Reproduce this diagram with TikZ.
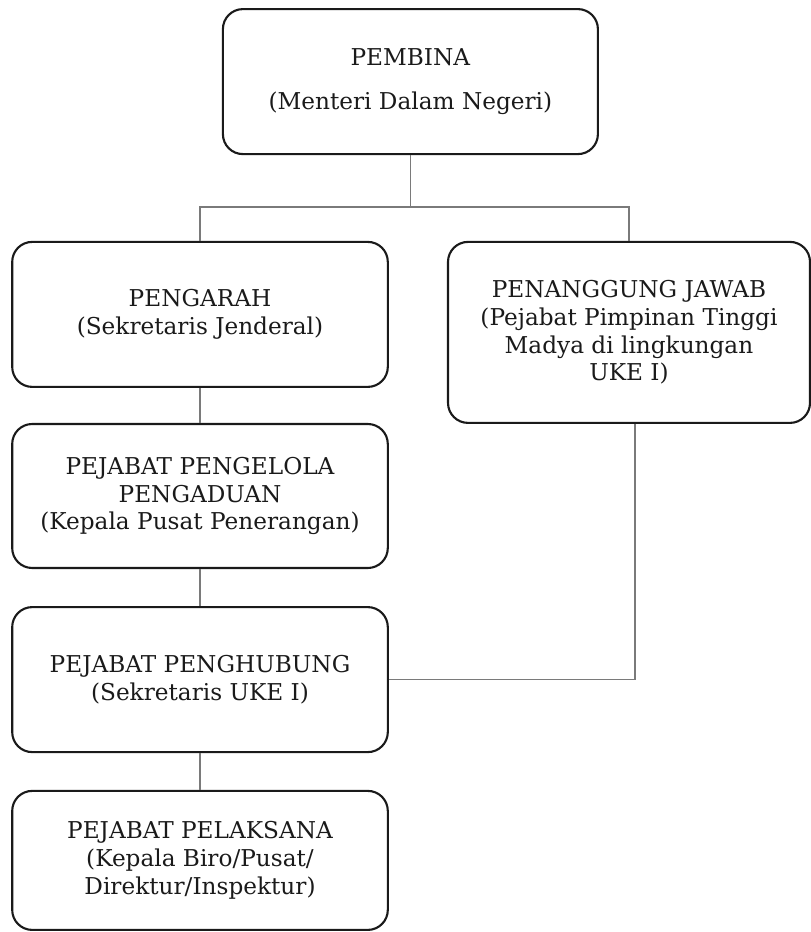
\documentclass[tikz,border=0pt]{standalone}
\usepackage{fontspec}
\setmainfont{DejaVu Serif}
\usepackage{tikz}
\usetikzlibrary{positioning, calc}
\definecolor{hitam}{HTML}{1A1A1A}
\definecolor{abu}{HTML}{7A7A7A}
\tikzset{
  every picture/.style={font=\fontsize{16.5}{19.8}\selectfont},
  kotak/.style={draw=hitam, text=hitam, line width=1.5pt, rounded corners=0.5cm,
              minimum width=9.39cm, minimum height=3.625cm, align=center, inner sep=0pt},
  garis/.style={abu, line width=0.8pt},
}
\begin{document}
\begin{tikzpicture}
  \useasboundingbox (0,0) rectangle (20.275,-23.3);
  \node[kotak, minimum width=9.375cm] (pembina) at (10.26,-2.04) {PEMBINA\\[11pt](Menteri Dalam Negeri)};
  \node[kotak] (pengarah) at (5.0,-7.86) {PENGARAH\\(Sekretaris Jenderal)};
  \node[kotak, minimum width=9.05cm, minimum height=4.525cm] (pj) at (15.725,-8.31) {PENANGGUNG JAWAB\\(Pejabat Pimpinan Tinggi\\Madya di lingkungan\\UKE I)};
  \node[kotak, minimum height=3.6cm] (pengelola) at (5.0,-12.4) {PEJABAT PENGELOLA\\PENGADUAN\\(Kepala Pusat Penerangan)};
  \node[kotak] (penghubung) at (5.0,-16.99) {PEJABAT PENGHUBUNG\\(Sekretaris UKE I)};
  \node[kotak, minimum height=3.475cm] (pelaksana) at (5.0,-21.51) {PEJABAT PELAKSANA\\(Kepala Biro/Pusat/\\Direktur/Inspektur)};
  % percabangan dari pembina
  \coordinate (cabang) at (10.26,-5.175);
  \draw[garis] (pembina) -- (cabang);
  \draw[garis] (pengarah.north) |- (cabang) -| (pj.north);
  \draw[garis] (pengarah) -- (pengelola);
  \draw[garis] (pengelola) -- (penghubung);
  \draw[garis] (penghubung) -- (pelaksana);
  \draw[garis] ([xshift=0.15cm]pj.south) |- (penghubung.east);
\end{tikzpicture}
\end{document}
